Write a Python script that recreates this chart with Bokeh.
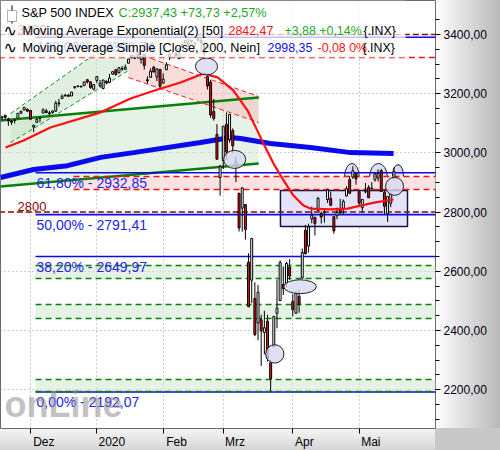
import numpy as np
from bokeh.plotting import figure
from bokeh.models import Range1d, FixedTicker, Label, BoxAnnotation, ColumnDataSource
from bokeh.core.properties import value
from bokeh.embed import file_html
from bokeh.resources import INLINE

# ---------------- data ----------------
dates = (
    ["2019-11-%02d" % d for d in [18, 19, 20, 21, 22, 25, 26, 27, 29]] +
    ["2019-12-%02d" % d for d in [2, 3, 4, 5, 6, 9, 10, 11, 12, 13, 16, 17, 18, 19, 20, 23, 24, 26, 27, 30, 31]] +
    ["2020-01-%02d" % d for d in [2, 3, 6, 7, 8, 9, 10, 13, 14, 15, 16, 17, 21, 22, 23, 24, 27, 28, 29, 30, 31]] +
    ["2020-02-%02d" % d for d in [3, 4, 5, 6, 7, 10, 11, 12, 13, 14, 18, 19, 20, 21, 24, 25, 26, 27, 28]] +
    ["2020-03-%02d" % d for d in [2, 3, 4, 5, 6, 9, 10, 11, 12, 13, 16, 17, 18, 19, 20, 23, 24, 25, 26, 27, 30, 31]] +
    ["2020-04-%02d" % d for d in [1, 2, 3, 6, 7, 8, 9, 13, 14, 15, 16, 17, 20, 21, 22, 23, 24, 27, 28, 29, 30]] +
    ["2020-05-%02d" % d for d in [1, 4, 5, 6, 7, 8, 11, 12, 13, 14, 15, 18]]
)

opens = [3117.9, 3127.5, 3114.7, 3108.5, 3111.4, 3117.4, 3134.9, 3145.5, 3147.2,
         3143.8, 3087.4, 3103.5, 3119.2, 3134.6, 3141.9, 3135.4, 3135.8, 3141.2, 3166.7, 3183.6, 3195.4, 3195.2, 3192.3, 3223.3, 3226.1, 3225.4, 3227.2, 3247.2, 3240.1, 3215.2,
         3244.7, 3226.4, 3217.6, 3241.9, 3238.6, 3266.0, 3281.0, 3271.1, 3285.4, 3282.3, 3303.0, 3323.7, 3321.0, 3330.0, 3315.8, 3333.1, 3247.2, 3255.4, 3289.5, 3256.5, 3282.3,
         3235.7, 3280.6, 3324.9, 3344.9, 3335.5, 3318.3, 3365.9, 3370.5, 3365.9, 3378.1, 3369.0, 3380.4, 3380.5, 3360.5, 3257.6, 3238.9, 3139.9, 3062.5, 2916.9,
         2974.3, 3096.5, 3045.8, 3075.7, 2954.2, 2863.9, 2813.5, 2825.6, 2630.9, 2570.0, 2508.6, 2425.7, 2436.5, 2393.5, 2431.9, 2290.7, 2344.4, 2457.8, 2501.3, 2555.9, 2559.0, 2614.7,
         2498.1, 2458.5, 2514.9, 2578.3, 2738.7, 2685.0, 2777.0, 2782.5, 2805.1, 2795.6, 2799.3, 2842.4, 2845.6, 2784.8, 2787.9, 2810.4, 2812.6, 2854.7, 2910.0, 2918.5, 2930.9,
         2869.1, 2815.0, 2868.9, 2883.1, 2878.3, 2908.8, 2915.5, 2939.5, 2865.9, 2794.5, 2830.0, 2913.9]
highs = [3124.2, 3127.6, 3119.0, 3110.1, 3112.9, 3133.8, 3142.7, 3154.3, 3150.3,
         3144.3, 3095.0, 3119.4, 3119.4, 3150.6, 3148.9, 3142.1, 3144.0, 3176.3, 3182.7, 3197.7, 3198.2, 3198.5, 3205.5, 3225.6, 3227.8, 3226.4, 3240.1, 3247.9, 3240.9, 3231.7,
         3258.1, 3246.2, 3246.8, 3244.9, 3267.1, 3275.6, 3283.0, 3288.1, 3294.2, 3298.7, 3317.1, 3329.9, 3329.8, 3337.8, 3326.9, 3333.2, 3258.8, 3285.8, 3293.5, 3285.9, 3282.3,
         3268.4, 3306.9, 3337.6, 3348.0, 3341.4, 3352.3, 3375.6, 3381.5, 3385.1, 3380.7, 3375.0, 3393.5, 3389.1, 3360.8, 3259.8, 3247.0, 3182.5, 3097.1, 2959.7,
         3091.0, 3136.7, 3131.0, 3083.0, 2985.9, 2863.9, 2882.6, 2825.6, 2661.0, 2711.3, 2563.0, 2553.9, 2453.6, 2467.0, 2453.0, 2300.7, 2449.7, 2571.4, 2637.0, 2615.9, 2631.8, 2641.4,
         2522.8, 2533.2, 2538.2, 2676.9, 2756.9, 2760.8, 2818.6, 2782.5, 2851.9, 2801.9, 2806.5, 2879.2, 2869.0, 2785.5, 2815.1, 2844.9, 2842.7, 2887.7, 2921.2, 2954.9, 2930.9,
         2869.1, 2844.2, 2898.2, 2891.1, 2901.9, 2932.2, 2944.3, 2945.8, 2874.1, 2852.8, 2865.0, 2951.0]
lows = [3109.6, 3113.5, 3091.4, 3094.6, 3099.3, 3117.4, 3131.0, 3143.4, 3139.3,
        3110.8, 3070.3, 3102.5, 3103.8, 3134.6, 3135.5, 3126.1, 3133.2, 3138.5, 3156.5, 3183.6, 3191.0, 3191.1, 3192.3, 3216.0, 3222.3, 3220.5, 3227.2, 3234.4, 3216.6, 3212.0,
        3235.5, 3222.3, 3214.6, 3232.4, 3236.7, 3263.7, 3260.9, 3268.4, 3277.2, 3280.7, 3303.0, 3318.9, 3316.6, 3320.0, 3301.9, 3281.5, 3234.5, 3253.2, 3271.9, 3242.8, 3214.7,
        3235.7, 3280.6, 3313.8, 3334.4, 3322.1, 3317.8, 3352.7, 3369.7, 3360.5, 3367.0, 3355.6, 3378.8, 3341.0, 3328.5, 3214.7, 3118.8, 3109.0, 2977.4, 2855.8,
        2945.2, 2976.6, 3034.4, 2999.8, 2901.5, 2734.4, 2734.0, 2707.2, 2478.9, 2492.4, 2380.9, 2367.0, 2280.5, 2319.8, 2295.6, 2191.9, 2344.4, 2407.5, 2500.7, 2520.0, 2545.3, 2571.2,
        2447.5, 2455.8, 2460.0, 2574.6, 2657.7, 2663.3, 2762.4, 2721.2, 2805.1, 2761.5, 2764.3, 2830.9, 2820.4, 2727.1, 2776.0, 2794.3, 2791.8, 2852.9, 2860.7, 2912.2, 2892.5,
        2821.6, 2797.9, 2863.6, 2847.7, 2876.5, 2902.9, 2903.4, 2869.6, 2793.2, 2766.6, 2816.8, 2913.9]
closes = [3122.0, 3120.2, 3108.5, 3103.5, 3110.3, 3133.6, 3140.5, 3153.6, 3141.0,
          3113.9, 3093.2, 3112.8, 3117.4, 3145.9, 3136.0, 3132.5, 3141.6, 3168.6, 3168.8, 3191.5, 3192.5, 3191.1, 3205.4, 3221.2, 3224.0, 3223.4, 3240.0, 3240.0, 3221.3, 3230.8,
          3257.9, 3234.9, 3246.3, 3237.2, 3253.1, 3274.7, 3265.4, 3288.1, 3283.2, 3289.3, 3316.8, 3329.6, 3321.0, 3321.0, 3325.5, 3295.5, 3243.6, 3276.2, 3273.4, 3283.7, 3225.5,
          3248.9, 3297.6, 3334.7, 3345.8, 3327.7, 3352.1, 3357.8, 3379.5, 3373.9, 3380.2, 3370.3, 3386.2, 3373.2, 3337.8, 3225.9, 3128.2, 3116.4, 2978.8, 2954.2,
          3090.2, 3003.4, 3130.1, 3023.9, 2972.4, 2746.6, 2882.2, 2741.4, 2480.6, 2711.0, 2386.1, 2529.2, 2398.1, 2409.4, 2304.9, 2237.4, 2447.3, 2475.6, 2630.1, 2541.5, 2626.7, 2584.6,
          2470.5, 2526.9, 2488.7, 2663.7, 2659.4, 2750.0, 2789.8, 2761.6, 2846.1, 2783.4, 2799.6, 2874.6, 2823.2, 2736.6, 2799.3, 2797.8, 2836.7, 2878.5, 2863.4, 2939.5, 2912.4,
          2830.7, 2842.7, 2868.4, 2848.4, 2881.2, 2929.8, 2930.3, 2870.1, 2820.0, 2852.5, 2863.7, 2937.4]
assert len(dates) == len(opens) == len(highs) == len(lows) == len(closes)

month_dates = ["2019-12-02", "2020-01-02", "2020-02-03", "2020-03-02", "2020-04-01", "2020-05-01"]
month_labels = ["Dez", "2020", "Feb", "Mrz", "Apr", "Mai"]

# moving averages (trading-day index, value)
ema_x = [-7.9, -2.2, 6.3, 22.2, 31.7, 40.2, 47.5, 54.8, 59.2, 64.2, 68.7, 72.2, 73.7, 76.9, 80.1, 83.2, 86.4, 88.6, 94.9, 100.3, 104.4, 109.2, 114.9]
ema_y = [3018, 3042, 3086, 3137, 3184, 3214, 3238, 3268, 3255, 3211, 3143, 3066, 3032, 2964, 2907, 2856, 2822, 2812, 2809, 2812, 2822, 2833, 2842.5]
sma_x = [-9.5, 1.0, 11.7, 22.2, 32.6, 53.8, 63.3, 66.5, 75.9, 88.6, 101.3, 114.9]
sma_y = [2917, 2944, 2957, 2985, 3001, 3035, 3052, 3049, 3032, 3018, 3001, 2998.35]

# fibonacci retracement
fib_values = [2192.07, 2649.97, 2791.41, 2932.85, 3390.74]
fib_labels = ["0,00% - 2192,07", "38,20% - 2649,97", "50,00% - 2791,41", "61,80% - 2932,85", "100,00% - 3390,74"]
fib_start = 1.6

# drawn trend channels (index, value)
wide_x = [-9.5, 72.2]
wide_upper = [3109.5, 3187.2]
wide_lower = [2886.5, 2964.2]
steep_x = [-6.3, 31.0]
steep_upper = [3133.0, 3413.5]
steep_lower = [3035.0, 3278.4]
pink_x = [31.0, 72.2]
pink_upper = [3346.0, 3190.6]
pink_lower = [3254.7, 3102.7]

# horizontal levels
maroon_levels = [3400, 2800]
maroon_labels = ["3400", "2800"]
red_level = 3322.3
pink_band = [2876.4, 2920.3]
pink_band_start = 13.6
green_bands_lo = [2575.8, 2440.6, 2194.0]
green_bands_hi = [2619.7, 2487.9, 2234.6]
green_band_start = 1.6

# marked box and ellipses
box = dict(left=79.1, right=119.3, bottom=2751.4, top=2873.0)
dome_x = [101.7, 110.1, 116.3]
dome_y = [2917, 2917, 2920]
dome_w = [4.7, 5.7, 3.5]
dome_h = [95, 95, 81]
ell_x = [55.7, 64.6, 85.3, 77.3, 115.2]
ell_y = [3292, 2978, 2548, 2321, 2887]
ell_w = [7.0, 7.0, 10.3, 5.8, 5.7]
ell_h = [57, 61, 47, 62, 61]

# ---------------- figure ----------------
i0 = dates.index("2019-12-02")
xs = [i - i0 for i in range(len(dates))]
month_ticks = [dates.index(d) - i0 for d in month_dates]
X_END = 130

FW, FH = 435, 428
p = figure(frame_width=FW, frame_height=FH,
           x_range=Range1d(-9.49, 128.16), y_range=Range1d(2069.0, 3514.9),
           y_axis_location="right", toolbar_location=None, output_backend="svg",
           min_border_left=0, min_border_top=0, min_border_right=65, min_border_bottom=22,
           background_fill_color="white", border_fill_color=None,
           outline_line_color="#6a6a6a", outline_line_width=1)
p.styles = {"background": "linear-gradient(to right, #ffffff, #b8b8b8) right top / 65px 428px no-repeat, "
                          "linear-gradient(to bottom, #f4f4f4, #d4d4d4) left bottom / 435px 22px no-repeat, #c8c8c8"}

yt = FixedTicker(ticks=list(range(2000, 3600, 200)), minor_ticks=list(range(2050, 3500, 50)))
p.yaxis.ticker = yt
p.ygrid.ticker = yt
p.yaxis.major_label_overrides = {t: f"{t},00" for t in range(2000, 3600, 200)}
p.yaxis.axis_line_color = None
p.yaxis.major_tick_in = 0
p.yaxis.major_tick_out = 5
p.yaxis.minor_tick_in = 0
p.yaxis.minor_tick_out = 4
p.yaxis.major_tick_line_color = "black"
p.yaxis.minor_tick_line_color = "black"
p.yaxis.major_label_standoff = 3
p.yaxis.major_label_text_font = "Liberation Sans"
p.yaxis.major_label_text_font_size = "12px"
p.yaxis.major_label_text_color = "#000010"

pads = [8, 9, 8, 7, 7, 7]
xt = FixedTicker(ticks=month_ticks, minor_ticks=[])
p.xaxis.ticker = xt
p.xgrid.ticker = xt
p.xaxis.major_label_overrides = {t: "\u00a0" * n + lab for t, lab, n in zip(month_ticks, month_labels, pads)}
p.xaxis.axis_line_color = None
p.xaxis.major_tick_in = 0
p.xaxis.major_tick_out = 5
p.xaxis.major_tick_line_color = "black"
p.xaxis.major_label_standoff = 1
p.xaxis.major_label_text_font = "Liberation Sans"
p.xaxis.major_label_text_font_size = "12px"
p.xaxis.major_label_text_color = "black"

for g in (p.xgrid, p.ygrid):
    g.grid_line_color = "#9a9a9a"
    g.grid_line_dash = "1 3"
    g.grid_line_width = 1

FONT = value("Liberation Sans")

# ---- fills ----
p.patch(x=[wide_x[0], wide_x[1], wide_x[1], wide_x[0]],
        y=[wide_upper[0], wide_upper[1], wide_lower[1], wide_lower[0]],
        fill_color="#cfe6cf", fill_alpha=0.5, line_color=None)
p.patch(x=[steep_x[0], steep_x[1], steep_x[1], steep_x[0]],
        y=[steep_upper[0], steep_upper[1], steep_lower[1], steep_lower[0]],
        fill_color="#c4e0c4", fill_alpha=0.5, line_color=None)
p.patch(x=[pink_x[0], pink_x[1], pink_x[1], pink_x[0]],
        y=[pink_upper[0], pink_upper[1], pink_lower[1], pink_lower[0]],
        fill_color="#f2b4b4", fill_alpha=0.45, line_color=None)
p.quad(left=green_band_start, right=X_END, bottom=green_bands_lo, top=green_bands_hi,
       fill_color="#cfe7cf", fill_alpha=0.55, line_color=None)
p.ellipse(x=dome_x, y=dome_y, width=dome_w, height=dome_h,
          fill_color="#dcdcf4", line_color="#202020", line_width=1)
p.quad(left=pink_band_start, right=X_END, bottom=pink_band[0], top=pink_band[1],
       fill_color="#fce2e2", fill_alpha=1.0, line_color=None)
p.quad(left=box["left"], right=box["right"], bottom=box["bottom"], top=box["top"],
       fill_color="#e0e0f8", fill_alpha=0.9, line_color="#141440", line_width=1.5)

# ---- lines ----
p.line(wide_x, wide_upper, line_color="#078007", line_width=2.5)
p.line(wide_x, wide_lower, line_color="#078007", line_width=2.5)
p.line(steep_x, steep_upper, line_color="#119011", line_width=1, line_dash="4 3")
p.line(steep_x, steep_lower, line_color="#119011", line_width=1, line_dash="4 3")
p.line(pink_x, pink_upper, line_color="#ee2222", line_width=1, line_dash="5 3")
p.line(pink_x, pink_lower, line_color="#ee2222", line_width=1, line_dash="5 3")

p.segment(x0=fib_start, x1=X_END, y0=fib_values, y1=fib_values, line_color="#0a0af0", line_width=1.6)
p.segment(x0=pink_band_start, x1=X_END, y0=pink_band, y1=pink_band,
          line_color="#ee1111", line_width=1.5, line_dash="6 4")
p.segment(x0=-10, x1=X_END, y0=red_level, y1=red_level,
          line_color="#ee1111", line_width=1.5, line_dash="6 4")
p.segment(x0=-10, x1=X_END, y0=maroon_levels, y1=maroon_levels,
          line_color="#8b0a0a", line_width=1.5, line_dash="6 3")
p.segment(x0=green_band_start, x1=X_END, y0=green_bands_lo, y1=green_bands_lo,
          line_color="#078007", line_width=1.5, line_dash="6 4")
p.segment(x0=green_band_start, x1=X_END, y0=green_bands_hi, y1=green_bands_hi,
          line_color="#078007", line_width=1.5, line_dash="6 4")

p.line(sma_x, sma_y, line_color="#0a0aee", line_width=5)

# ---- candles ----
tops = [max(o, c) for o, c in zip(opens, closes)]
bots = [min(o, c) for o, c in zip(opens, closes)]
cols = ["white" if c >= o else "#ee1111" for o, c in zip(opens, closes)]
src = ColumnDataSource(dict(x=xs, h=highs, l=lows, top=tops, bot=bots, col=cols))
p.segment(x0="x", y0="h", x1="x", y1="l", source=src, line_color="black", line_width=1)
p.vbar(x="x", width=0.62, top="top", bottom="bot", fill_color="col", line_color="black",
       line_width=1, source=src)

p.line(ema_x, ema_y, line_color="#ff1010", line_width=2.2)

p.ellipse(x=ell_x, y=ell_y, width=ell_w, height=ell_h,
          fill_color="#d8d8f2", fill_alpha=0.8, line_color="#202020", line_width=1)

# ---- texts in the chart ----
p.text(x=[fib_start + 0.3] * len(fib_values), y=[v - 7 for v in fib_values], text=fib_labels,
       text_font=FONT, text_font_size="14px", text_color="#2424e6",
       text_baseline="top", text_align="left")
p.text(x=[-4.1] * 2, y=[v + 3 for v in maroon_levels], text=maroon_labels,
       text_font=FONT, text_font_size="13px", text_color="#8b0a0a",
       text_baseline="bottom", text_align="left")

# watermark
p.add_layout(Label(x=4, y=4, x_units="screen", y_units="screen", text="onLine",
                   text_font="Liberation Sans", text_font_style="bold", text_font_size="36px",
                   text_color="#8e8e8e", text_alpha=0.55, text_baseline="bottom"))


def sbox(left, right, bottom, top, **kw):
    p.add_layout(BoxAnnotation(left=left, right=right, bottom=bottom, top=top,
                               left_units="screen", right_units="screen",
                               bottom_units="screen", top_units="screen", **kw))


# ---- legend block (screen units from the frame's bottom-left) ----
sbox(0, 405, FH - 57, FH, fill_color="white", fill_alpha=0.75, line_color=None)
# candle icon
sbox(11, 12, FH - 23, FH - 5, fill_color="black", fill_alpha=1, line_color=None)
sbox(7, 16, FH - 21, FH - 10, fill_color="white", fill_alpha=1, line_color="black", line_width=1)

LEG = "12.7px"
NUM = "12.4px"
GREEN = "#1fa81f"


def leg(x, y_top, text, color, size=LEG, font="Liberation Sans"):
    p.add_layout(Label(x=x, y=FH - y_top, x_units="screen", y_units="screen", text=text,
                       text_font=font, text_font_size=size, text_color=color,
                       text_baseline="middle", text_align="left"))


y1, y2, y3 = 12, 30, 47
leg(21, y1, "S&P 500 INDEX", "black")
leg(118, y1, "C:2937,43 +73,73 +2,57%", GREEN)
leg(3, y2, "\u223f", "black", size="16px", font="DejaVu Sans")
leg(22, y2, "Moving Average Exponential(2) [50]", "black")
leg(228, y2, "2842,47", "#ff1010", size=NUM)
leg(284, y2, "+3,88 +0,14%", GREEN, size=NUM)
leg(363, y2, "{.INX}", "black", size=NUM)
leg(3, y3, "\u223f", "black", size="16px", font="DejaVu Sans")
leg(22, y3, "Moving Average Simple [Close, 200, Nein]", "black")
leg(267, y3, "2998,35", "#1010ff", size=NUM)
leg(317, y3, "-0,08 0%", "#ff1010", size=NUM)
leg(362, y3, "{.INX}", "black", size=NUM)

leg(437, 11, "XXP", "black", size="12px")

open("out.html", "w").write(file_html(p, INLINE))
